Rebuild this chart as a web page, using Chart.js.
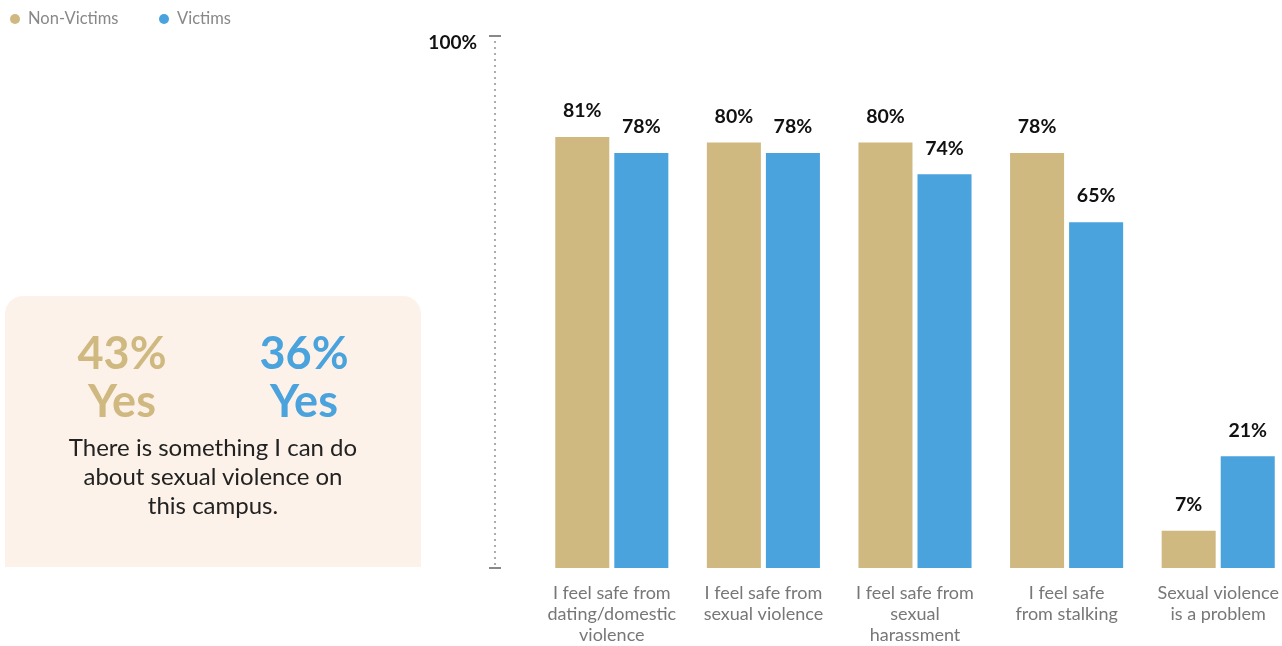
<!DOCTYPE html>
<html>
<head>
<meta charset="utf-8">
<script src="https://cdn.jsdelivr.net/npm/chart.js@4.4.0/dist/chart.umd.min.js"></script>
<style>
  html, body { margin: 0; padding: 0; background: #fff; overflow: hidden; }
  body { width: 1282px; height: 646px; position: relative; font-family: Lato, "Noto Sans", sans-serif; }
  #wrap { position: absolute; left: 0; top: 0; width: 1300px; height: 661px; }
  .legend { position: absolute; top: 8px; font-size: 16.5px; color: #888; white-space: nowrap; }
  .legend i { display: inline-block; width: 10px; height: 10px; border-radius: 50%; margin-right: 8px; vertical-align: 0px; }
  #panel { position: absolute; left: 5px; top: 296px; width: 416px; height: 271px; background: #fdf2e9; border-radius: 18px 18px 0 0; }
  .big { position: absolute; width: 170px; text-align: center; font-weight: 700; font-size: 45px; line-height: 48px; }
  #note { position: absolute; left: 0; top: 136px; width: 416px; text-align: center; font-size: 24px; line-height: 29px; color: #222; }
</style>
</head>
<body>
<div id="wrap"><canvas id="chart"></canvas></div>
<div class="legend" style="left:10px"><i style="background:#cfb980"></i>Non-Victims</div>
<div class="legend" style="left:159px"><i style="background:#4ba3dd"></i>Victims</div>
<div id="panel">
  <div class="big" style="left:32px;top:32px;color:#cfb980">43%<br>Yes</div>
  <div class="big" style="left:214px;top:32px;color:#4ba3dd">36%<br>Yes</div>
  <div id="note">There is something I can do<br>about sexual violence on<br>this campus.</div>
</div>
<script>
const categories = [
  ["I feel safe from", "dating/domestic", "violence"],
  ["I feel safe from", "sexual violence"],
  ["I feel safe from", "sexual", "harassment"],
  ["I feel safe", "from stalking"],
  ["Sexual violence", "is a problem"]
];
const nonVictims = [81, 80, 80, 78, 7];
const victims = [78, 78, 74, 65, 21];
const yTicks = [0, 100];

const GOLD = "#cfb980";
const BLUE = "#4ba3dd";

// dotted axis drawn left of the bars, plus the value labels on top of the bars
const decor = {
  id: "decor",
  afterDraw(chart) {
    const ctx = chart.ctx;
    const y = chart.scales.y;
    const x = chart.chartArea.left - 41;
    const top = y.getPixelForValue(100);
    const bottom = y.getPixelForValue(0);
    ctx.save();
    ctx.fillStyle = "#999";
    for (let p = top + 6; p < bottom - 3; p += 6) {
      ctx.beginPath();
      ctx.arc(x, p, 1.1, 0, Math.PI * 2);
      ctx.fill();
    }
    ctx.fillStyle = "#888";
    ctx.fillRect(x - 6, top - 1, 12, 2);
    ctx.fillRect(x - 6, bottom - 1, 12, 2);

    ctx.fillStyle = "#111";
    ctx.font = "bold 19.5px Lato, sans-serif";
    ctx.textAlign = "center";
    ctx.textBaseline = "middle";
    chart.data.datasets.forEach((ds, i) => {
      chart.getDatasetMeta(i).data.forEach((bar, j) => {
        ctx.fillText(ds.data[j] + "%", bar.x, bar.y - 26);
      });
    });
    ctx.restore();
  }
};

new Chart(document.getElementById("chart"), {
  type: "bar",
  data: {
    labels: categories,
    datasets: [
      { label: "Non-Victims", data: nonVictims, backgroundColor: GOLD },
      { label: "Victims", data: victims, backgroundColor: BLUE }
    ]
  },
  options: {
    responsive: true,
    maintainAspectRatio: false,
    animation: false,
    layout: { padding: { top: 36, right: 6, bottom: 0, left: 0 } },
    datasets: { bar: { categoryPercentage: 0.779, barPercentage: 0.915 } },
    scales: {
      x: {
        grid: { display: false, drawTicks: false },
        border: { display: false },
        ticks: {
          color: "#777",
          font: { family: "Lato", size: 18, lineHeight: 1.1667 },
          padding: 15,
          maxRotation: 0,
          autoSkip: false
        }
      },
      y: {
        min: 0,
        max: 100,
        afterBuildTicks(scale) { scale.ticks = yTicks.map(v => ({ value: v })); },
        afterFit(scale) {
          scale.width = 536;
          scale.paddingTop = 0;
          scale.paddingBottom = 0;
        },
        grid: { display: false, drawTicks: false },
        border: { display: false },
        ticks: {
          color: "#111",
          font: { family: "Lato", size: 19, weight: "bold" },
          padding: 59,
          labelOffset: 7,
          callback: v => (v === 100 ? "100%" : "")
        }
      }
    },
    plugins: {
      legend: { display: false },
      tooltip: { enabled: false }
    }
  },
  plugins: [decor]
});
</script>
</body>
</html>
